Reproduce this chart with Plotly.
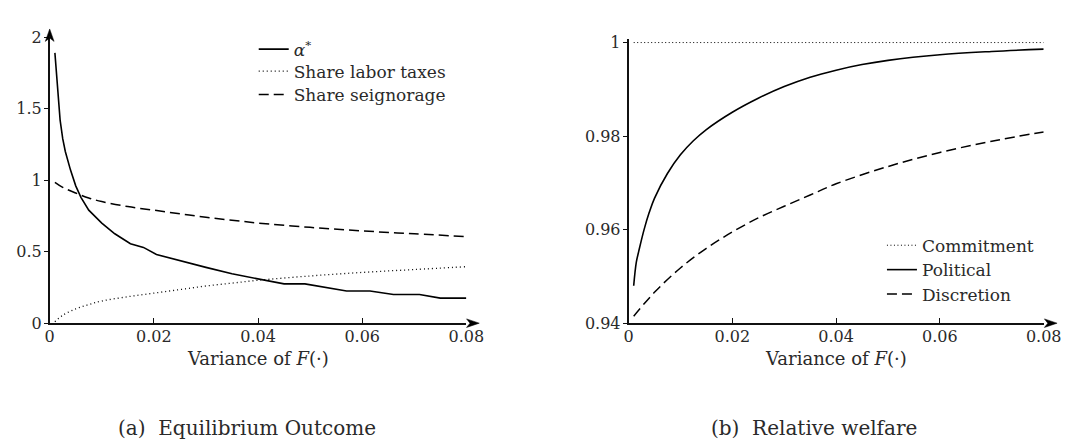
import plotly.graph_objects as go

# ---------------- data ----------------
# Panel (a): Equilibrium Outcome
alpha_x = [0.001, 0.0015, 0.002, 0.0025, 0.003, 0.004, 0.005, 0.006, 0.0075, 0.01,
           0.0125, 0.0155, 0.018, 0.0205, 0.025, 0.03, 0.035, 0.04, 0.045, 0.049,
           0.057, 0.0615, 0.066, 0.071, 0.075, 0.08]
alpha_y = [1.89, 1.65, 1.42, 1.29, 1.20, 1.07, 0.96, 0.88, 0.79, 0.70,
           0.625, 0.555, 0.53, 0.48, 0.435, 0.39, 0.345, 0.31, 0.275, 0.275,
           0.225, 0.225, 0.20, 0.20, 0.175, 0.175]

share_x = [0.001, 0.0025, 0.005, 0.0075, 0.01, 0.015, 0.02, 0.025, 0.03, 0.035,
           0.04, 0.05, 0.06, 0.07, 0.08]
labor_y = [0.01, 0.055, 0.10, 0.13, 0.155, 0.185, 0.21, 0.235, 0.26, 0.28,
           0.30, 0.33, 0.355, 0.375, 0.395]
seign_y = [0.985, 0.95, 0.91, 0.875, 0.85, 0.815, 0.79, 0.765, 0.74, 0.72,
           0.70, 0.67, 0.645, 0.625, 0.605]

# Panel (b): Relative welfare
commit_x = [0.001, 0.08]
commit_y = [1.0, 1.0]

pol_x = [0.001, 0.0015, 0.002, 0.003, 0.004, 0.005, 0.0075, 0.01, 0.0125, 0.015,
         0.02, 0.025, 0.03, 0.035, 0.04, 0.045, 0.05, 0.06, 0.07, 0.08]
pol_y = [0.948, 0.953, 0.9555, 0.960, 0.9637, 0.9667, 0.9720, 0.9760, 0.9790, 0.9814,
         0.9851, 0.9881, 0.9906, 0.9926, 0.9941, 0.9953, 0.9962, 0.9974, 0.9981, 0.9986]

disc_x = [0.001, 0.005, 0.01, 0.015, 0.02, 0.025, 0.03, 0.035, 0.04, 0.05,
          0.06, 0.07, 0.08]
disc_y = [0.9415, 0.9466, 0.9518, 0.9560, 0.9595, 0.9625, 0.9650, 0.9674, 0.9698, 0.9735,
          0.9765, 0.9789, 0.9809]

x_ticks = [0, 0.02, 0.04, 0.06, 0.08]
x_ticktext = ["0", "0.02", "0.04", "0.06", "0.08"]
ya_ticks = [0, 0.5, 1, 1.5, 2]
ya_ticktext = ["0", "0.5", "1", "1.5", "2"]
yb_ticks = [0.94, 0.96, 0.98, 1.0]
yb_ticktext = ["0.94", "0.96", "0.98", "1"]

# ---------------- layout helpers ----------------
W, H = 1072, 440
def pxx(p):
    return p / W
def pxy(p):
    return 1 - p / H

FONT = "DejaVu Serif"
TXTCOL = "#2a2a2a"

fig = go.Figure()

# panel (a)
fig.add_trace(go.Scatter(x=alpha_x, y=alpha_y, mode="lines", name="<i>α</i><sup>*</sup>",
                         line=dict(color="black", width=1.6), xaxis="x", yaxis="y",
                         legend="legend", showlegend=True))
fig.add_trace(go.Scatter(x=share_x, y=labor_y, mode="lines", name="Share labor taxes",
                         line=dict(color="black", width=1.3, dash="1px,3px", shape="spline"),
                         xaxis="x", yaxis="y", legend="legend2", showlegend=True))
fig.add_trace(go.Scatter(x=share_x, y=seign_y, mode="lines", name="Share seignorage",
                         line=dict(color="black", width=1.5, dash="10px,5px", shape="spline"),
                         xaxis="x", yaxis="y", legend="legend3", showlegend=True))

# panel (b)
fig.add_trace(go.Scatter(x=commit_x, y=commit_y, mode="lines", name="Commitment",
                         line=dict(color="black", width=1.0, dash="1px,2.5px"),
                         xaxis="x2", yaxis="y2", legend="legend4", showlegend=True))
fig.add_trace(go.Scatter(x=pol_x, y=pol_y, mode="lines", name="Political",
                         line=dict(color="black", width=1.6, shape="spline"),
                         xaxis="x2", yaxis="y2", legend="legend5", showlegend=True))
fig.add_trace(go.Scatter(x=disc_x, y=disc_y, mode="lines", name="Discretion",
                         line=dict(color="black", width=1.5, dash="10px,5px", shape="spline"),
                         xaxis="x2", yaxis="y2", legend="legend6", showlegend=True))

axis_common = dict(showgrid=False, zeroline=False, showline=True, linecolor="#111111",
                   linewidth=1.5, tickcolor="#111111", tickwidth=1,
                   tickfont=dict(family=FONT, size=16, color=TXTCOL))

def leg(xp, yp):
    return dict(x=pxx(xp), y=pxy(yp), xanchor="left", yanchor="middle",
                bgcolor="rgba(0,0,0,0)", borderwidth=0,
                font=dict(family=FONT, size=17, color=TXTCOL))

fig.update_layout(
    width=W, height=H,
    margin=dict(l=0, r=0, t=0, b=0),
    showlegend=True,
    paper_bgcolor="white", plot_bgcolor="white",
    font=dict(family=FONT, size=16, color="black"),
    xaxis=dict(domain=[pxx(37.5), pxx(463.3)], range=[0, 0.08], anchor="y",
               tickvals=x_ticks, ticktext=x_ticktext, ticks="inside", ticklen=5,
               ticklabelstandoff=-2, **axis_common),
    yaxis=dict(domain=[pxy(320), pxy(21)], range=[0, 2], anchor="x",
               tickvals=ya_ticks, ticktext=ya_ticktext, ticks="outside", ticklen=4,
               ticklabelstandoff=-1, **axis_common),
    xaxis2=dict(domain=[pxx(629), pxx(1053.3)], range=[0, 0.08], anchor="y2",
                tickvals=x_ticks, ticktext=x_ticktext, ticks="inside", ticklen=5,
                ticklabelstandoff=-2, **axis_common),
    yaxis2=dict(domain=[pxy(320), pxy(23)], range=[0.94, 1.00076], anchor="x2",
                tickvals=yb_ticks, ticktext=yb_ticktext, ticks="outside", ticklen=4,
                ticklabelstandoff=-1, **axis_common),
    legend=leg(246, 34),
    legend2=leg(246, 57),
    legend3=leg(246, 81.5),
    legend4=leg(888, 239),
    legend5=leg(888, 264.5),
    legend6=leg(888, 290),
)

# axis titles and captions
for xr in ["x domain", "x2 domain"]:
    fig.add_annotation(x=0.5, xref=xr, y=pxy(357), yref="paper",
                       text="Variance of <i>F</i>(·)", showarrow=False,
                       font=dict(family=FONT, size=18, color=TXTCOL),
                       xanchor="center", yanchor="middle")
fig.add_annotation(x=pxx(239), xref="paper", y=pxy(430), yref="paper",
                   text="(a)  Equilibrium Outcome", showarrow=False,
                   font=dict(family=FONT, size=20, color=TXTCOL),
                   xanchor="center", yanchor="middle")
fig.add_annotation(x=pxx(819), xref="paper", y=pxy(430), yref="paper",
                   text="(b)  Relative welfare", showarrow=False,
                   font=dict(family=FONT, size=20, color=TXTCOL),
                   xanchor="center", yanchor="middle")

# arrow heads on axes (paper coordinates)
def arrow_right(tip_x, y):
    pts = [(tip_x, y), (tip_x - 13, y - 4.5), (tip_x - 9.5, y), (tip_x - 13, y + 4.5)]
    return "M " + " L ".join(f"{pxx(a)},{pxy(b)}" for a, b in pts) + " Z"

def arrow_up(x, tip_y):
    pts = [(x, tip_y), (x - 4.5, tip_y + 13), (x, tip_y + 9.5), (x + 4.5, tip_y + 13)]
    return "M " + " L ".join(f"{pxx(a)},{pxy(b)}" for a, b in pts) + " Z"

for path in [arrow_right(476.5, 320), arrow_right(1067, 320), arrow_up(37.5, 12.5)]:
    fig.add_shape(type="path", path=path, xref="paper", yref="paper",
                  fillcolor="black", line=dict(color="black", width=0.5))
# extend left y-axis line up to the arrow
fig.add_shape(type="line", xref="paper", yref="paper",
              x0=pxx(37.5), x1=pxx(37.5), y0=pxy(21.5), y1=pxy(20),
              line=dict(color="#111111", width=1.5))

fig.write_html("out.html")
